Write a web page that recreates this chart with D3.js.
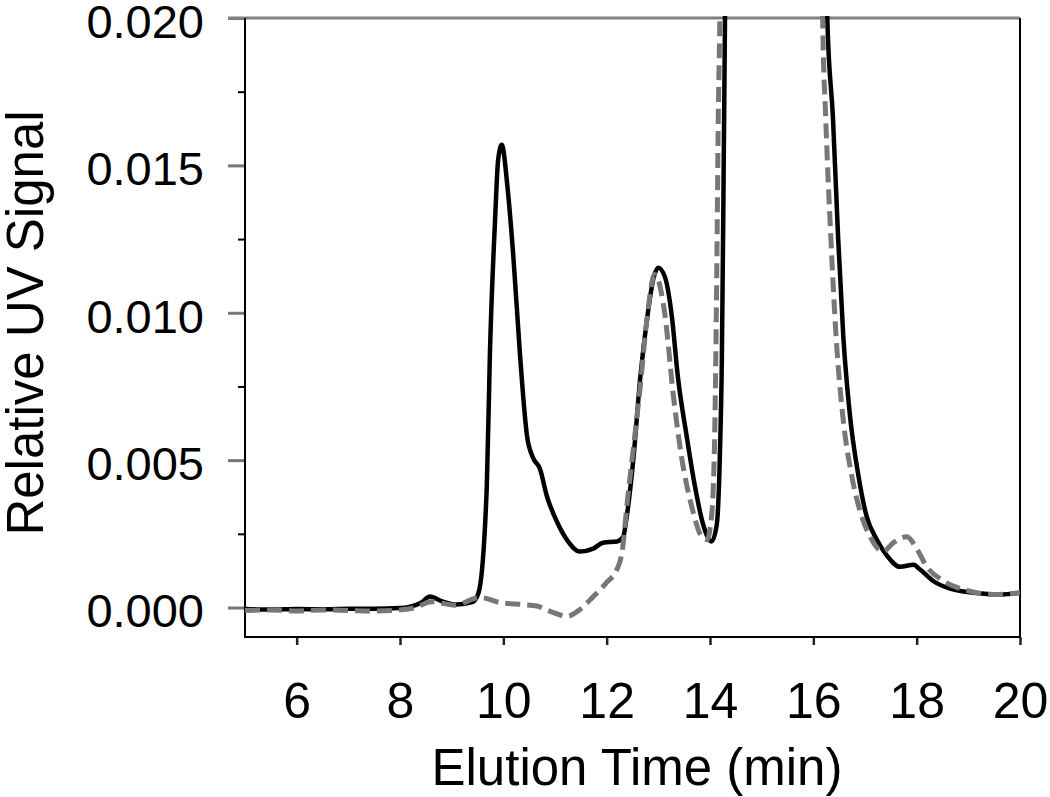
<!DOCTYPE html>
<html lang="en">
<head>
<meta charset="UTF-8">
<title>Relative UV Signal vs Elution Time</title>
<script src="https://d3js.org/d3.v7.min.js"></script>
<style>
    body { margin: 0; background: #fff; }
    svg { display: block; }
    .axis text {
        fill: #000;
        font-family: "Liberation Sans", Arial, Helvetica, sans-serif;
    }
    .axis-label {
        fill: #000;
        font-family: "Liberation Sans", Arial, Helvetica, sans-serif;
        font-size: 51px;
    }
</style>
</head>
<body>
<script>
// sample traces (time in min, signal)
const solidTime = [5, 5.5, 6, 6.5, 7, 7.5, 8, 8.2, 8.4, 8.58, 8.8, 9.1, 9.4, 9.52, 9.68, 9.74, 9.84, 9.9, 9.97,
    10.08, 10.19, 10.32, 10.46, 10.57, 10.71, 10.84, 11.04, 11.23, 11.48, 11.74, 11.93, 12.2, 12.32, 12.39,
    12.52, 12.65, 12.79, 12.91, 13.0, 13.13, 13.26, 13.38, 13.55, 13.71, 13.87, 14.03, 14.13, 14.19, 14.23,
    14.26, 14.29, 14.36, 15.2, 16.18, 16.27, 16.38, 16.48, 16.58, 16.71, 16.87, 17.03, 17.23, 17.42, 17.68,
    17.94, 18.06, 18.32, 18.65, 19.1, 19.6, 20]
const solidSignal = [-0.00005, -0.00007, -0.00005, -0.00006, -0.00004, -0.00004, -0.00002, 0.00003, 0.00015,
    0.00037, 0.00022, 0.0001, 0.00018, 0.0005, 0.0041, 0.0086, 0.01315, 0.0152, 0.0157,
    0.01427, 0.012, 0.00864, 0.0058, 0.0051, 0.0047, 0.0038, 0.0029, 0.0023, 0.0019, 0.002, 0.0022, 0.00224,
    0.0024, 0.0031, 0.0051, 0.0078, 0.0099, 0.0112, 0.01153, 0.0112, 0.0099, 0.0078, 0.0058, 0.0041, 0.0028,
    0.00224, 0.0028, 0.0051, 0.0085, 0.0139, 0.020, 0.035, 0.2, 0.035, 0.02, 0.0166, 0.01254, 0.0092, 0.0065,
    0.0045, 0.0031, 0.0023, 0.00177, 0.00138, 0.00145, 0.0013, 0.0009, 0.00064, 0.0005, 0.00044, 0.0005]

const dashTime = [5, 5.5, 6, 6.5, 7, 7.5, 8, 8.3, 8.6, 9.06, 9.55, 9.93, 10.38, 10.65, 10.97, 11.23, 11.48,
    11.74, 12.0, 12.2, 12.3, 12.4, 12.51, 12.65, 12.78, 12.93, 13.13, 13.29, 13.45, 13.65, 13.84, 13.94, 14.03,
    14.09, 14.13, 14.16, 14.19, 14.25, 15.2, 16.1, 16.18, 16.24, 16.34, 16.44, 16.57, 16.74, 16.9, 17.1, 17.35,
    17.55, 17.81, 18.0, 18.19, 18.52, 18.97, 19.47, 20]
const dashSignal = [-0.0001, -0.00008, -0.00012, -0.00008, -0.0001, -0.00012, -0.00008, 0.0, 0.0002, 0.00008,
    0.00034, 0.00017, 0.0001, 0.00005, -0.00017, -0.0003, -0.00007, 0.00037, 0.00085, 0.0013, 0.0019, 0.0036,
    0.0053, 0.0075, 0.0098, 0.0113, 0.0099, 0.0072, 0.0051, 0.0034, 0.0024, 0.0023, 0.0031, 0.0058, 0.0112,
    0.0166, 0.02, 0.035, 0.2, 0.035, 0.02, 0.0166, 0.0125, 0.0092, 0.0065, 0.0045, 0.0033, 0.0024, 0.0019,
    0.0022, 0.0024, 0.002, 0.0014, 0.0009, 0.00058, 0.00044, 0.0005]

// axis ticks
const xTicks = [6, 8, 10, 12, 14, 16, 18, 20]
const yTicks = [0.000, 0.005, 0.010, 0.015, 0.020]
const yMinorTicks = [0.0025, 0.0075, 0.0125, 0.0175]

// layout
const WIDTH = 1050
const HEIGHT = 797
const PLOT = {LEFT: 245, RIGHT: 1020, TOP: 18, BOTTOM: 637}

const svg = d3.select("body").append("svg")
    .attr("width", WIDTH)
    .attr("height", HEIGHT)

const x = d3.scaleLinear().domain([5, 20]).range([PLOT.LEFT, PLOT.RIGHT])
const y = d3.scaleLinear().domain([-0.001, 0.020]).range([PLOT.BOTTOM, PLOT.TOP])

svg.append("clipPath").attr("id", "plot-clip")
    .append("rect")
    .attr("x", PLOT.LEFT)
    .attr("y", PLOT.TOP - 2)
    .attr("width", PLOT.RIGHT - PLOT.LEFT)
    .attr("height", PLOT.BOTTOM - PLOT.TOP + 2)

// y axis: major ticks + labels
const yAxis = svg.append("g")
    .attr("class", "axis")
    .attr("transform", `translate(${PLOT.LEFT}, 0)`)
    .call(d3.axisLeft(y).tickValues(yTicks).tickSize(17).tickPadding(24).tickFormat(d3.format(".3f")))
yAxis.select(".domain").remove()
yAxis.selectAll("line").attr("stroke", "#777").attr("stroke-width", 3)
yAxis.selectAll("text").attr("font-size", 47).attr("dy", "0.41em")

const yMinor = svg.append("g")
    .attr("transform", `translate(${PLOT.LEFT}, 0)`)
    .call(d3.axisLeft(y).tickValues(yMinorTicks).tickSize(7).tickFormat(""))
yMinor.select(".domain").remove()
yMinor.selectAll("line").attr("stroke", "#000").attr("stroke-width", 2)

// x axis
const xAxis = svg.append("g")
    .attr("class", "axis")
    .attr("transform", `translate(0, ${PLOT.BOTTOM})`)
    .call(d3.axisBottom(x).tickValues(xTicks).tickSize(8).tickPadding(37).tickFormat(d3.format("d")))
xAxis.select(".domain").remove()
xAxis.selectAll("line").attr("stroke", "#222").attr("stroke-width", 2.5)
xAxis.selectAll("text").attr("font-size", 50)

// frame
svg.append("line")  // top border, grey
    .attr("x1", PLOT.LEFT - 17).attr("x2", PLOT.RIGHT)
    .attr("y1", PLOT.TOP).attr("y2", PLOT.TOP)
    .attr("stroke", "#808080").attr("stroke-width", 3)
svg.append("line")  // left
    .attr("x1", PLOT.LEFT).attr("x2", PLOT.LEFT)
    .attr("y1", PLOT.TOP).attr("y2", PLOT.BOTTOM)
    .attr("stroke", "#000").attr("stroke-width", 2)
svg.append("line")  // bottom
    .attr("x1", PLOT.LEFT - 1).attr("x2", PLOT.RIGHT)
    .attr("y1", PLOT.BOTTOM).attr("y2", PLOT.BOTTOM)
    .attr("stroke", "#000").attr("stroke-width", 2)
svg.append("line")  // right
    .attr("x1", PLOT.RIGHT).attr("x2", PLOT.RIGHT)
    .attr("y1", PLOT.TOP).attr("y2", PLOT.BOTTOM)
    .attr("stroke", "#000").attr("stroke-width", 2)

// traces
const line = d3.line()
    .x(d => x(d[0]))
    .y(d => y(d[1]))
    .curve(d3.curveMonotoneX)

const traces = svg.append("g").attr("clip-path", "url(#plot-clip)")

traces.append("path")
    .datum(d3.zip(solidTime, solidSignal))
    .attr("d", line)
    .attr("fill", "none")
    .attr("stroke", "#000")
    .attr("stroke-width", 4.5)
    .attr("stroke-linejoin", "round")

traces.append("path")
    .datum(d3.zip(dashTime, dashSignal))
    .attr("d", line)
    .attr("fill", "none")
    .attr("stroke", "#777")
    .attr("stroke-width", 5)
    .attr("stroke-dasharray", "15,7")

// axis titles
svg.append("text")
    .attr("class", "axis-label")
    .attr("x", 637)
    .attr("y", 785)
    .attr("text-anchor", "middle")
    .text("Elution Time (min)")

svg.append("text")
    .attr("class", "axis-label")
    .attr("transform", "translate(43, 323) rotate(-90)")
    .attr("text-anchor", "middle")
    .text("Relative UV Signal")
</script>
</body>
</html>
